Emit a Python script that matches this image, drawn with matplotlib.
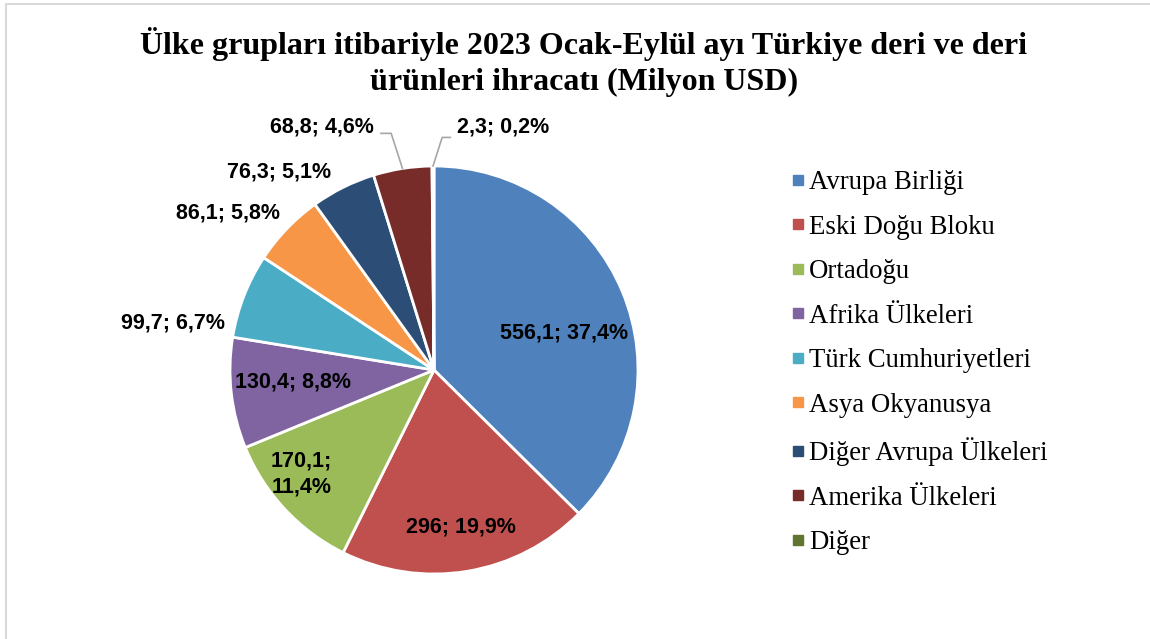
#!/usr/bin/env python3
import matplotlib
matplotlib.use("Agg")
import matplotlib.pyplot as plt
from matplotlib.lines import Line2D
from matplotlib.patches import Rectangle
import numpy as np

# export by country group, Jan-Sep 2023 (million USD)
groups = ["Avrupa Birliği", "Eski Doğu Bloku", "Ortadoğu", "Afrika Ülkeleri",
          "Türk Cumhuriyetleri", "Asya Okyanusya", "Diğer Avrupa Ülkeleri",
          "Amerika Ülkeleri", "Diğer"]
values = [556.1, 296, 170.1, 130.4, 99.7, 86.1, 76.3, 68.8, 2.3]
shares = [37.4, 19.9, 11.4, 8.8, 6.7, 5.8, 5.1, 4.6, 0.2]
colors = ["#4F81BD", "#C0504D", "#9BBB59", "#8064A2", "#4BACC6",
          "#F79646", "#2C4D75", "#772C2A", "#5F7530"]

title = ("Ülke grupları itibariyle 2023 Ocak-Eylül ayı Türkiye deri ve deri\n"
         "ürünleri ihracatı (Milyon USD)")

# label centres, in pie radii from the centre
label_pos = [(0.64, 0.18), (0.13, -0.77), (-0.65, -0.51), (-0.69, -0.06),
             (-1.28, 0.23), (-1.01, 0.77), (-0.76, 0.97), (-0.55, 1.19),
             (0.34, 1.19)]
# leader elbows for the two small slices at the top: (elbow, end)
leaders = {7: [(-0.21, 1.16), (-0.26, 1.16)], 8: [(0.04, 1.14), (0.08, 1.14)]}


def fmt(v):
    return f"{v:g}".replace(".", ",")


def main():
    W, H = 1150, 639
    fig = plt.figure(figsize=(W / 100, H / 100), dpi=100)

    # chart frame (cut off at right and bottom like the screenshot)
    fig.patches.append(Rectangle((6 / W, -0.1), 1.2, 1.1 - 4 / H,
                                 transform=fig.transFigure, fill=False,
                                 edgecolor="#D9D9D9", linewidth=1.5))

    cx, cy, r = 434, 370, 204
    ax = fig.add_axes([(cx - r) / W, (H - cy - r) / H, 2 * r / W, 2 * r / H])
    wedges, _ = ax.pie(values, colors=colors, startangle=90, counterclock=False,
                       radius=1, wedgeprops=dict(edgecolor="white", linewidth=2))
    ax.set_xlim(-1, 1)
    ax.set_ylim(-1, 1)
    ax.axis("off")

    lab_font = dict(family=["Liberation Sans", "DejaVu Sans"], weight="bold",
                    size=15.5, color="black")
    for i, (v, s) in enumerate(zip(values, shares)):
        txt = f"{fmt(v)}; {fmt(s)}%"
        if i == 2:
            txt = f"{fmt(v)};\n{fmt(s)}%"
        x, y = label_pos[i]
        ax.text(x, y, txt, ha="center", va="center", linespacing=1.35,
                clip_on=False, **lab_font)

    total = sum(values)
    start = 0.0
    for i, v in enumerate(values):
        mid = 90 - 360 * (start + v / 2) / total
        start += v
        if i in leaders:
            a = np.deg2rad(mid)
            pts = [(np.cos(a), np.sin(a))] + leaders[i]
            xs, ys = zip(*pts)
            ax.plot(xs, ys, color="#A6A6A6", linewidth=1.2, clip_on=False)

    fig.text(584 / W, 1 - 62 / H, title, ha="center", va="center",
             family=["Liberation Serif", "DejaVu Serif"], weight="bold",
             size=23, linespacing=1.3)

    handles = [Line2D([], [], linestyle="none", marker="s", markersize=6.5,
                      markerfacecolor=c, markeredgecolor=c) for c in colors]
    fig.legend(handles, groups, loc="upper left",
               bbox_to_anchor=(790 / W, 1 - 170 / H), frameon=False,
               prop=dict(family=["Liberation Serif", "DejaVu Serif"], size=19.3),
               handlelength=0.6, handletextpad=0.12, labelspacing=0.73,
               borderaxespad=0, borderpad=0)

    fig.savefig("out.png", dpi=100)


if __name__ == "__main__":
    main()
